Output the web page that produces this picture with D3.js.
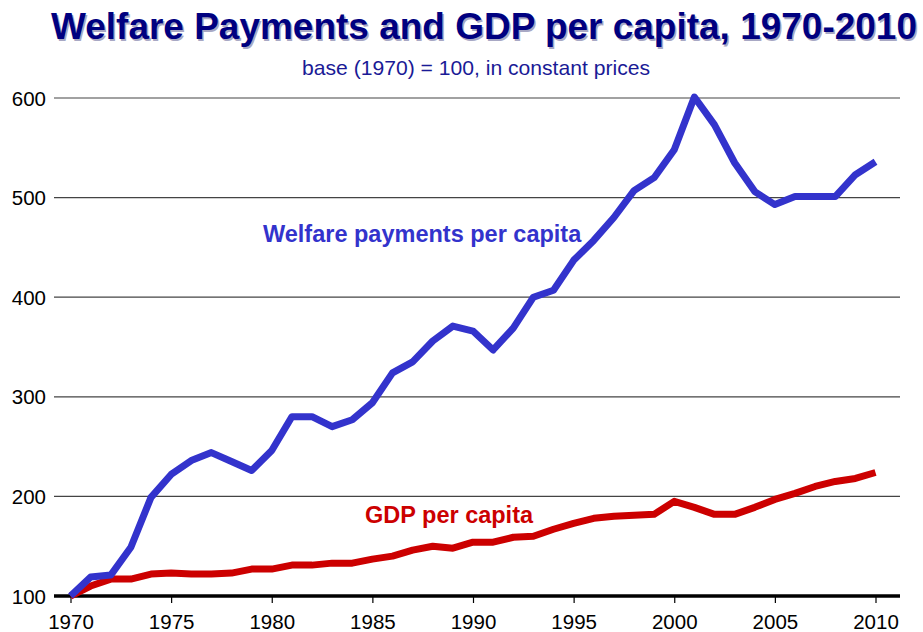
<!DOCTYPE html>
<html>
<head>
<meta charset="utf-8">
<script src="https://cdn.jsdelivr.net/npm/d3@7"></script>
<style>
  html, body { margin: 0; padding: 0; background: #fff; }
  svg { display: block; }
  text { font-family: Arial, "Liberation Sans", sans-serif; }
</style>
</head>
<body>
<svg id="chart" width="923" height="632"></svg>
<script>
const years = d3.range(1970, 2011);
const welfare = [100, 119, 121, 149, 199, 222, 236, 244, 235, 226, 246, 280, 280, 270, 277, 294,
                 324, 335, 356, 371, 366, 347, 369, 400, 407, 437, 457, 480, 507, 520, 548,
                 601, 573, 535, 506, 493, 501, 501, 501, 523, 536];
const gdp = [100, 110, 117, 117, 122, 123, 122, 122, 123, 127, 127, 131, 131, 133, 133, 137,
             140, 146, 150, 148, 154, 154, 159, 160, 167, 173, 178, 180, 181, 182, 195,
             189, 182, 182, 189, 197, 203, 210, 215, 218, 224];
const yTicks = [100, 200, 300, 400, 500, 600];
const xTicks = [1970, 1975, 1980, 1985, 1990, 1995, 2000, 2005, 2010];
const titleText = "Welfare Payments and GDP per capita, 1970-2010";
const subtitleText = "base (1970) = 100, in constant prices";
const welfareLabel = "Welfare payments per capita";
const gdpLabel = "GDP per capita";

const svg = d3.select("#chart");
const x = d3.scaleLinear().domain([1970, 2010]).range([70.5, 875.5]);
const y = d3.scaleLinear().domain([100, 600]).range([596, 98]);
const plotLeft = 54, plotRight = 900;

// Title with shadow
svg.append("text").attr("x", 484 + 1.5).attr("y", 39 + 1.5)
  .attr("text-anchor", "middle").attr("font-size", 37).attr("font-weight", "bold")
  .attr("fill", "#a8a8c4").attr("textLength", 866).attr("lengthAdjust", "spacingAndGlyphs")
  .text(titleText);
svg.append("text").attr("x", 484).attr("y", 39)
  .attr("text-anchor", "middle").attr("font-size", 37).attr("font-weight", "bold")
  .attr("fill", "#000080").attr("textLength", 866).attr("lengthAdjust", "spacingAndGlyphs")
  .text(titleText);

svg.append("text").attr("x", 476).attr("y", 75)
  .attr("text-anchor", "middle").attr("font-size", 21)
  .attr("fill", "#1a1a96").attr("textLength", 348).attr("lengthAdjust", "spacingAndGlyphs")
  .text(subtitleText);

// Gridlines
svg.append("g").selectAll("line").data(yTicks.filter(d => d > 100)).join("line")
  .attr("x1", plotLeft).attr("x2", plotRight)
  .attr("y1", d => y(d)).attr("y2", d => y(d))
  .attr("stroke", "#444").attr("stroke-width", 1.2);

// Y labels
svg.append("g").selectAll("text").data(yTicks).join("text")
  .attr("x", 46).attr("y", d => y(d))
  .attr("text-anchor", "end").attr("dominant-baseline", "central")
  .attr("font-size", 20.5).attr("fill", "#000")
  .text(d => d);

// X axis
const xAxis = d3.axisBottom(x).tickValues(xTicks).tickFormat(d3.format("d")).tickSize(7).tickPadding(11);
const gx = svg.append("g").attr("transform", `translate(0,${y(100)})`).call(xAxis);
gx.select(".domain").remove();
gx.selectAll(".tick line").attr("stroke", "#000").attr("stroke-width", 1.2);
gx.selectAll(".tick text").attr("font-size", 20.5).attr("fill", "#000")
  .attr("font-family", "Arial, 'Liberation Sans', sans-serif");
svg.append("line").attr("x1", plotLeft).attr("x2", plotRight)
  .attr("y1", y(100)).attr("y2", y(100))
  .attr("stroke", "#000").attr("stroke-width", 3.5);

// Lines
const line = d3.line().x((d, i) => x(years[i])).y(d => y(d));
svg.append("path").datum(gdp).attr("d", line)
  .attr("fill", "none").attr("stroke", "#cc0000").attr("stroke-width", 7)
  .attr("stroke-linejoin", "round");
svg.append("path").datum(welfare).attr("d", line)
  .attr("fill", "none").attr("stroke", "#3333cc").attr("stroke-width", 7)
  .attr("stroke-linejoin", "round");

// Series labels
svg.append("text").attr("x", 263).attr("y", 242)
  .attr("font-size", 23.5).attr("font-weight", "bold").attr("fill", "#3333cc")
  .text(welfareLabel);
svg.append("text").attr("x", 365).attr("y", 523)
  .attr("font-size", 23.5).attr("font-weight", "bold").attr("fill", "#cc0000")
  .text(gdpLabel);
</script>
</body>
</html>
